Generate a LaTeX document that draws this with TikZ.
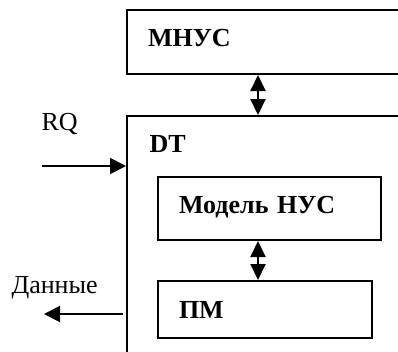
\documentclass[tikz,border=0pt]{standalone}
\usepackage{fontspec}
\setmainfont{Liberation Serif}
\usetikzlibrary{positioning,arrows.meta}

\begin{document}
\begin{tikzpicture}[x=1pt, y=-1pt, font=\fontsize{26}{30}\selectfont,
	box/.style={draw, line width=2pt, rectangle, anchor=north west, inner xsep=21pt, inner ysep=0pt, align=left, text height=18pt, font=\fontsize{26}{30}\selectfont\bfseries},
	arr/.style={line width=2pt, -{Triangle[length=16pt,width=16pt]}},
	darr/.style={line width=2pt, {Triangle[length=16pt,width=15pt]}-{Triangle[length=16pt,width=15pt]}}]
	
	\useasboundingbox (0,0) rectangle (398,351);
	\clip (0,0) rectangle (398,351);
	
	\node[box, minimum width=340pt, minimum height=64pt, text width=298pt, text depth=10pt] (mnus) at (126,9) {МНУС};
	\node[box, minimum width=340pt, minimum height=300pt] (dt) at (126,115) {};
	\node[anchor=base west, font=\fontsize{26}{30}\selectfont\bfseries] (dtname) at (146,152) {DT};
	\node[box, minimum width=223pt, minimum height=63pt, text width=181pt, text depth=9pt] (model) at (157,176) {Модель НУС};
	\node[box, minimum width=214pt, minimum height=57pt, text width=172pt, text depth=0pt] (pm) at (157,280) {ПМ};
	
	\node[anchor=base west] (rq) at (38,130) {RQ};
	\node[anchor=base west] (data) at (8,293) {Данные};
	
	\coordinate (rqin) at (42,166);
	\coordinate (dout) at (44,314);
	\coordinate (ax) at (258,0);
	
	\draw[arr] (rqin) -- (rqin -| dt.west);
	\draw[arr, shorten <=3pt] (dout -| dt.west) -- (dout);
	\draw[darr] (ax |- mnus.south) -- (ax |- dt.north);
	\draw[darr] (ax |- model.south) -- (ax |- pm.north);
\end{tikzpicture}
\end{document}
